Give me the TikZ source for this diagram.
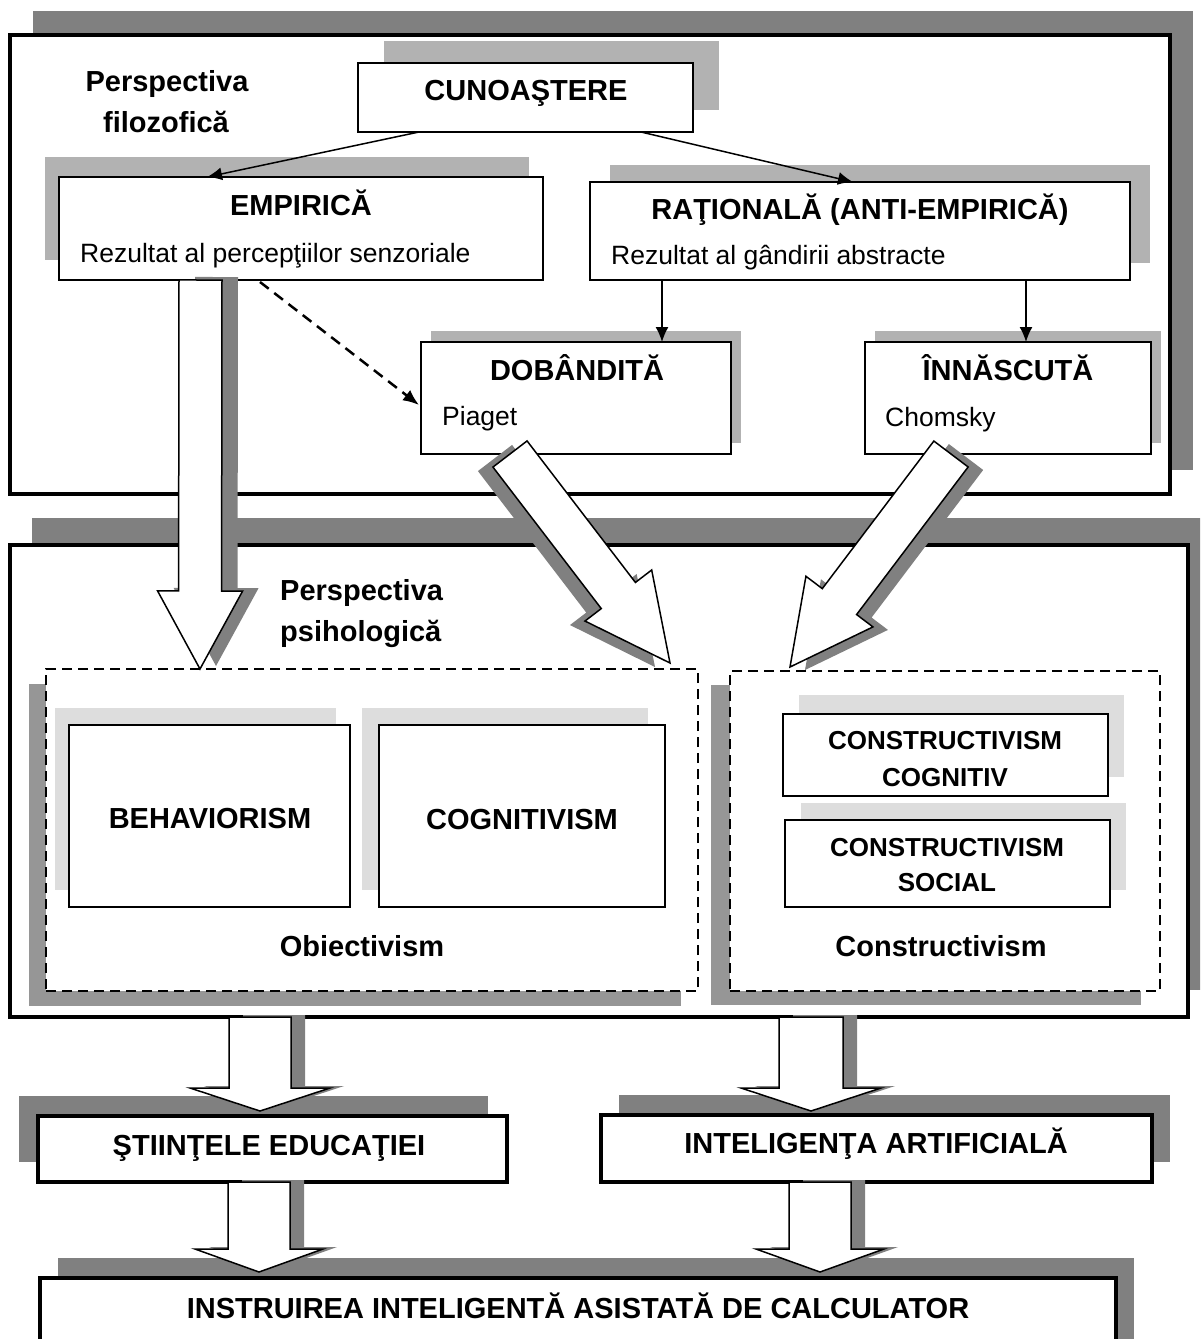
\documentclass[tikz,border=0pt]{standalone}
\usepackage{fontspec}
\setmainfont{Liberation Sans}
\usetikzlibrary{calc,shadows,arrows.meta}

\definecolor{shdark}{HTML}{808080}
\definecolor{shmid}{HTML}{969696}
\definecolor{shlight}{HTML}{B2B2B2}
\definecolor{shpale}{HTML}{DDDDDD}

\tikzset{
  frame/.style={draw, fill=white, line width=3.5pt, inner sep=0pt, outer sep=0pt},
  topbox/.style={draw, fill=white, line width=2pt, inner sep=0pt, outer sep=0pt},
  dashbox/.style={draw, fill=white, line width=1.5pt, dash pattern=on 10pt off 6pt, inner sep=0pt, outer sep=0pt},
  endbox/.style={draw, fill=white, line width=3.5pt, inner sep=0pt, outer sep=0pt},
  shd/.style n args={3}{general shadow={fill=#1, shadow xshift=#2, shadow yshift=#3}},
  ttl/.style={font=\fontsize{29}{34}\selectfont\bfseries, inner sep=0pt},
  ttlsmall/.style={font=\fontsize{26}{31}\selectfont\bfseries, inner sep=0pt},
  sub/.style={font=\fontsize{26.5}{32}\selectfont, inner sep=0pt},
  thinarrow/.style={line width=1.5pt, -{Latex[length=15pt,width=13pt]}},
  dasharrow/.style={line width=2.5pt, dash pattern=on 11pt off 7pt, -{Latex[length=16pt,width=13pt]}},
  barrow/.style={draw, fill=white, line width=1.5pt, line join=miter},
  barrowshd/.style={fill=shdark, draw=none},
}

% rectangle node given by its corners (pixel-like units, y downwards)
\newcommand\boxat[6]{%
  \node[#6, minimum width={(#4-#2)*1pt}, minimum height={(#5-#3)*1pt}]
    (#1) at ({(#2+#4)/2},{(#3+#5)/2}) {};}

% block arrow from #1 to #2: shaft half width #3, head half width #4, head length #5
\newcommand\blockarrow[6]{%
  \coordinate (#1-#2-b) at ($(#2)!#5pt!(#1)$);
  \path[#6] ($(#1)!#3pt!90:(#2)$) -- ($(#1-#2-b)!#3pt!90:(#2)$)
    -- ($(#1-#2-b)!#4pt!90:(#2)$) -- (#2)
    -- ($(#1-#2-b)!#4pt!-90:(#2)$) -- ($(#1-#2-b)!#3pt!-90:(#2)$)
    -- ($(#1)!#3pt!-90:(#2)$) -- cycle;}

\begin{document}
\begin{tikzpicture}[x=1pt,y=-1pt]
\path[use as bounding box] (0,0) rectangle (1200,1339);
\clip (0,0) rectangle (1200,1339);
\fill[white] (0,0) rectangle (1200,1339);

% the two large frames
\boxat{f1}{10}{35}{1170}{494}{frame, shd={shdark}{23pt}{24pt}}
\boxat{f2}{10}{545}{1188}{1017}{frame, shd={shdark}{22pt}{27pt}}

% philosophical perspective
\node[ttl, anchor=base] (pf1) at (167,91) {Perspectiva};
\node[ttl, anchor=base] (pf2) at (166,132) {filozofică};

\boxat{cun}{358}{63}{693}{132}{topbox, shd={shlight}{26pt}{22pt}}
\boxat{emp}{59}{177}{543}{280}{topbox, shd={shlight}{-14pt}{20pt}}
\boxat{rat}{590}{182}{1130}{280}{topbox, shd={shlight}{20pt}{17pt}}
\boxat{dob}{421}{342}{731}{454}{topbox, shd={shlight}{10pt}{11pt}}
\boxat{inn}{865}{342}{1151}{454}{topbox, shd={shlight}{10pt}{11pt}}

\node[ttl, anchor=base] (tcun) at (526,100) {CUNOAŞTERE};
\node[ttl, anchor=base] (temp) at (301,215) {EMPIRICĂ};
\node[sub, anchor=base west] (semp) at (80,262) {Rezultat al percepţiilor senzoriale};
\node[ttl, anchor=base] (trat) at (860,219) {RAŢIONALĂ (ANTI-EMPIRICĂ)};
\node[sub, anchor=base west] (srat) at (611,264) {Rezultat al gândirii abstracte};
\node[ttl, anchor=base] (tdob) at (577,380) {DOBÂNDITĂ};
\node[sub, anchor=base west] (sdob) at (442,425) {Piaget};
\node[ttl, anchor=base] (tinn) at (1008,380) {ÎNNĂSCUTĂ};
\node[sub, anchor=base west] (sinn) at (885,426) {Chomsky};

\draw[thinarrow] ($(cun.south west)+(61,0)$) -- ($(emp.north west)+(148,0)$);
\draw[thinarrow] ($(cun.south west)+(283,0)$) -- ($(rat.north west)+(263,0)$);
\draw[thinarrow] ($(rat.south west)+(72,0)$) -- ($(dob.north west)+(241,0)$);
\draw[thinarrow] ($(rat.south west)+(436,0)$) -- ($(inn.north west)+(161,0)$);
\draw[dasharrow] ($(emp.south west)+(201,2)$) -- ($(dob.west)+(-2,7)$);

% psychological perspective
\node[ttl, anchor=base west] (pp1) at (280,600) {Perspectiva};
\node[ttl, anchor=base west] (pp2) at (280,641) {psihologică};

\boxat{obj}{46}{669}{698}{991}{dashbox, shd={shmid}{-17pt}{-15pt}}
\boxat{con}{730}{671}{1160}{991}{dashbox, shd={shmid}{-19pt}{-14pt}}

\boxat{beh}{69}{725}{350}{907}{topbox, shd={shpale}{-14pt}{17pt}}
\boxat{cog}{379}{725}{665}{907}{topbox, shd={shpale}{-17pt}{17pt}}
\boxat{cc}{783}{714}{1108}{796}{topbox, shd={shpale}{16pt}{19pt}}
\boxat{cs}{785}{820}{1110}{907}{topbox, shd={shpale}{16pt}{17pt}}

\node[ttl, anchor=base] (tbeh) at (210,828) {BEHAVIORISM};
\node[ttl, anchor=base] (tcog) at (522,829) {COGNITIVISM};
\node[ttl, anchor=base] (tobj) at (362,956) {Obiectivism};
\node[ttlsmall, anchor=base] (tcc1) at (945,749) {CONSTRUCTIVISM};
\node[ttlsmall, anchor=base] (tcc2) at (945,786) {COGNITIV};
\node[ttlsmall, anchor=base] (tcs1) at (947,856) {CONSTRUCTIVISM};
\node[ttlsmall, anchor=base] (tcs2) at (947,891) {SOCIAL};
\node[ttl, anchor=base] (tcon) at (941,956) {Constructivism};

% block arrows from the philosophical to the psychological level
\coordinate (a1) at ($(emp.south west)+(141.5,0)$);
\coordinate (b1) at ($(obj.north west)+(154,0)$);
\coordinate (a2) at ($(dob.south west)+(89,0)$);
\coordinate (b2) at ($(obj.north east)+(-28,-6)$);
\coordinate (a3) at ($(inn.south west)+(86,0)$);
\coordinate (b3) at ($(con.north west)+(60,-4)$);
\coordinate (a1s) at ($(a1)+(16,-3)$);
\coordinate (b1s) at ($(b1)+(16,-3)$);
\coordinate (a2s) at ($(a2)+(-15,4)$);
\coordinate (b2s) at ($(b2)+(-15,4)$);
\coordinate (a3s) at ($(a3)+(15,3)$);
\coordinate (b3s) at ($(b3)+(15,3)$);

\blockarrow{a1s}{b1s}{21.5}{42.5}{78}{barrowshd}
\blockarrow{a1}{b1}{21.5}{42.5}{78}{barrow}
\blockarrow{a2s}{b2s}{21.5}{42}{85}{barrowshd}
\blockarrow{a2}{b2}{21.5}{42}{85}{barrow}
\blockarrow{a3s}{b3s}{21.5}{42}{82}{barrowshd}
\blockarrow{a3}{b3}{21.5}{42}{82}{barrow}

% applied fields
\boxat{sti}{38}{1116}{507}{1182}{endbox, shd={shdark}{-19pt}{20pt}}
\boxat{int}{601}{1115}{1152}{1182}{endbox, shd={shdark}{18pt}{20pt}}
\boxat{ins}{40}{1278}{1116}{1370}{endbox, shd={shdark}{18pt}{20pt}}

\node[ttl, anchor=base] (tsti) at (269,1155) {ŞTIINŢELE EDUCAŢIEI};
\node[ttl, anchor=base] (tint) at (876,1153) {INTELIGENŢA ARTIFICIALĂ};
\node[ttl, anchor=base] (tins) at (578,1318) {INSTRUIREA INTELIGENTĂ ASISTATĂ DE CALCULATOR};

\coordinate (a4) at ($(f2.south west)+(250,0)$);
\coordinate (b4) at ($(sti.north west)+(222,-5)$);
\coordinate (a5) at ($(f2.south west)+(801,0)$);
\coordinate (b5) at ($(int.north west)+(210,-4)$);
\coordinate (a6) at ($(sti.south west)+(221,0)$);
\coordinate (b6) at ($(ins.north west)+(219,-6)$);
\coordinate (a7) at ($(int.south west)+(219,0)$);
\coordinate (b7) at ($(ins.north west)+(780,-6)$);
\foreach \n in {4,5,6,7}{
  \coordinate (a\n s) at ($(a\n)+(14,-2)$);
  \coordinate (b\n s) at ($(b\n)+(14,-2)$);
}
\blockarrow{a4s}{b4s}{31}{70}{23}{barrowshd}
\blockarrow{a4}{b4}{31}{70}{23}{barrow}
\blockarrow{a5s}{b5s}{32}{70}{23}{barrowshd}
\blockarrow{a5}{b5}{32}{70}{23}{barrow}
\blockarrow{a6s}{b6s}{31}{64}{23}{barrowshd}
\blockarrow{a6}{b6}{31}{64}{23}{barrow}
\blockarrow{a7s}{b7s}{31}{64}{23}{barrowshd}
\blockarrow{a7}{b7}{31}{64}{23}{barrow}
\end{tikzpicture}
\end{document}
